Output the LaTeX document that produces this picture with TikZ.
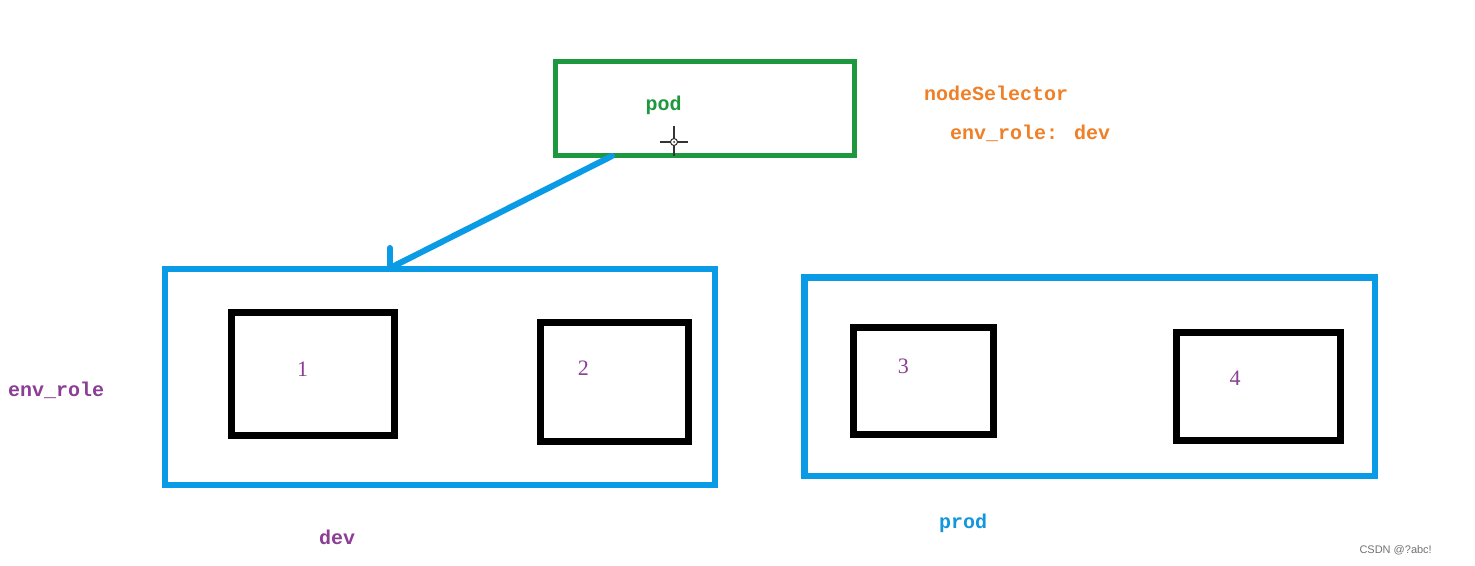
\documentclass[tikz,border=0pt]{standalone}
\usepackage{fontspec}
\setmainfont{Liberation Serif}
\newfontfamily\labelmono{Liberation Mono}
\newfontfamily\wmfont{Liberation Sans}
\definecolor{podgreen}{RGB}{30,152,62}
\definecolor{boxblue}{RGB}{10,155,230}
\definecolor{txtpurple}{RGB}{140,62,150}
\definecolor{txtorange}{RGB}{240,128,40}
\definecolor{txtblue}{RGB}{20,150,220}
\tikzset{
  greenbox/.style={draw=podgreen, line width=5pt, rectangle, inner sep=0pt},
  bluebox/.style={draw=boxblue, line width=6pt, rectangle, inner sep=0pt},
  blackbox/.style={draw=black, line width=7pt, rectangle, inner sep=0pt},
  codetxt/.style={font=\labelmono\bfseries\fontsize{20}{24}\selectfont, inner sep=0pt},
  numtxt/.style={font=\fontsize{22}{26}\selectfont, text=txtpurple, inner sep=0pt},
  bluelink/.style={draw=boxblue, line width=6pt, line cap=round},
  cursorline/.style={draw=black!80, line width=1.6pt}
}
\begin{document}
\begin{tikzpicture}[x=1pt,y=-1pt]
\useasboundingbox[fill=white] (0,0) rectangle (1475,565);
% boxes
\node[greenbox, minimum width=299pt, minimum height=94pt] (pod) at (705,108.5) {};
\node[bluebox, minimum width=550.5pt, minimum height=216pt] (dev) at (439.75,377) {};
\node[bluebox, line width=6.5pt, minimum width=570.3pt, minimum height=198.7pt] (prod) at (1089.85,376.65) {};
\node[blackbox, minimum width=162.6pt, minimum height=122.8pt] (n1) at (313,373.9) {};
\node[blackbox, minimum width=147.3pt, minimum height=119pt] (n2) at (614.35,381.5) {};
\node[blackbox, minimum width=139.7pt, minimum height=107pt] (n3) at (923.15,381.2) {};
\node[blackbox, minimum width=164.5pt, minimum height=107.3pt] (n4) at (1258.55,386.35) {};
% labels
\node[codetxt, text=podgreen] (podlbl) at (663.5,105) {pod};
\node[codetxt, text=txtorange, anchor=west] (nsel) at (924,93) {nodeSelector};
\node[codetxt, text=txtorange, anchor=west] (envdev) at (950,133) {env\_role: dev};
\node[codetxt, text=txtpurple, anchor=west] (envrole) at (8,390) {env\_role};
\node[codetxt, text=txtpurple] (devlbl) at (337,537) {dev};
\node[codetxt, text=txtblue] (prodlbl) at (963,523) {prod};
\node[numtxt] (l1) at (302.7,369) {1};
\node[numtxt] (l2) at (583.3,368.3) {2};
\node[numtxt] (l3) at (903.3,366.7) {3};
\node[numtxt] (l4) at (1235,378.3) {4};
\node[font=\wmfont\fontsize{11}{13}\selectfont, text=black!55, anchor=east, inner sep=0pt] (wm) at (1432,550) {CSDN @?abc!};
% connector
\coordinate (from) at (612,156);
\coordinate (tip) at (390,268);
\coordinate (barb) at (390,248);
\draw[bluelink] (from) -- (tip);
\draw[bluelink] (barb) -- (tip);
% cursor
\coordinate (cur) at (674,142);
\draw[cursorline] ([xshift=-14pt]cur) -- ([xshift=-3pt]cur);
\draw[cursorline] ([xshift=3pt]cur) -- ([xshift=14pt]cur);
\draw[cursorline] ([yshift=-14pt]cur) -- ([yshift=-3pt]cur);
\draw[cursorline] ([yshift=3pt]cur) -- ([yshift=16pt]cur);
\draw[black!80, line width=1pt] (cur) circle (3.5pt);
\fill[black!80] (cur) circle (1pt);
\end{tikzpicture}
\end{document}
